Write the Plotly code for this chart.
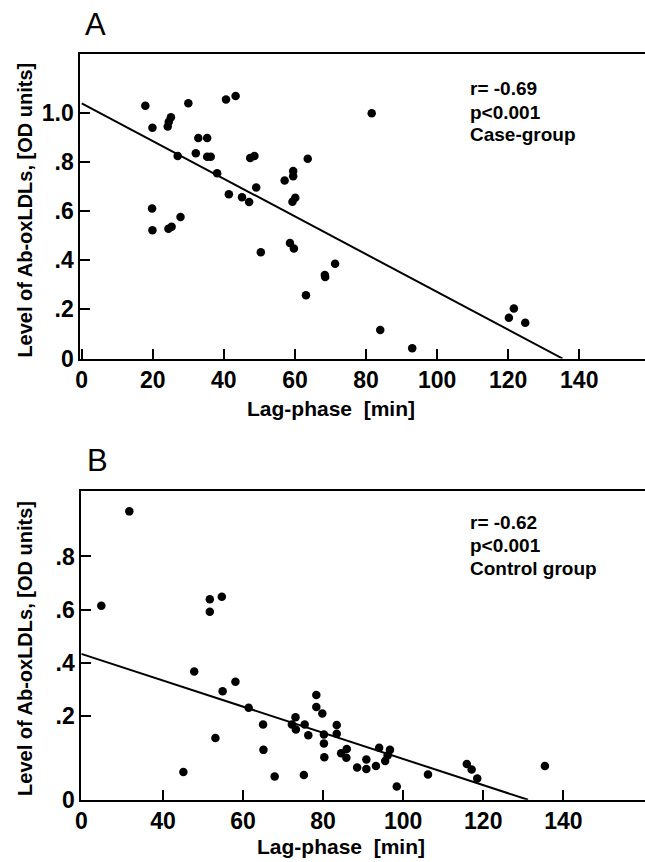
import plotly.graph_objects as go

W, H = 645, 862

# ---------------- data ----------------
# Panel A: Case-group
a_lag = [17.9, 30.0, 40.6, 43.3, 25.1, 24.5, 24.2, 19.9, 32.8, 35.3,
         27.0, 32.1, 35.3, 36.3, 47.4, 48.6, 38.1, 63.6, 59.5, 59.5,
         57.1, 49.1, 41.4, 45.1, 47.1, 59.3, 60.1, 19.8, 27.8, 19.9,
         24.4, 25.3, 81.6, 50.4, 58.6, 59.7, 71.3, 68.4, 68.5, 63.1,
         84.0, 93.0, 121.6, 120.2, 124.8]
a_ab = [1.03, 1.04, 1.055, 1.07, 0.983, 0.965, 0.945, 0.94, 0.898, 0.898,
        0.825, 0.836, 0.822, 0.822, 0.817, 0.825, 0.755, 0.814, 0.764, 0.743,
        0.725, 0.697, 0.669, 0.657, 0.638, 0.639, 0.655, 0.611, 0.577, 0.523,
        0.529, 0.537, 0.999, 0.433, 0.471, 0.448, 0.386, 0.340, 0.332, 0.258,
        0.116, 0.042, 0.204, 0.166, 0.146]
fit_a_lag = [0.0, 135.3]
fit_a_ab = [1.04, 0.0]

# Panel B: Control group
b_lag = [31.6, 24.6, 51.7, 54.7, 51.7, 47.8, 58.1, 54.9, 61.4, 78.3,
         78.3, 79.8, 73.1, 72.2, 73.2, 75.4, 76.3, 65.0, 80.2, 83.4,
         83.4, 80.2, 53.1, 65.1, 80.3, 85.9, 84.5, 85.8, 45.1, 67.9,
         75.2, 88.5, 90.8, 90.8, 94.0, 93.2, 96.7, 96.1, 95.5, 98.4,
         106.2, 115.9, 117.1, 118.5, 135.4]
b_ab = [0.970, 0.614, 0.639, 0.648, 0.592, 0.366, 0.328, 0.292, 0.230, 0.278,
        0.233, 0.208, 0.194, 0.167, 0.148, 0.167, 0.126, 0.167, 0.129, 0.165,
        0.132, 0.095, 0.116, 0.071, 0.043, 0.074, 0.058, 0.041, -0.012, -0.029,
        -0.024, 0.005, 0.035, -0.001, 0.079, 0.010, 0.071, 0.050, 0.029, -0.067,
        -0.022, 0.018, -0.003, -0.037, 0.010]
fit_b_lag = [19.6, 131.2]
fit_b_ab = [0.433, -0.117]

# axes / ticks
a_xrange = [-0.4, 158.5]
a_yrange = [0.0, 1.24]
a_xticks = [0, 20, 40, 60, 80, 100, 120, 140]
a_xtext = ["0", "20", "40", "60", "80", "100", "120", "140"]
a_yticks = [0, 0.2, 0.4, 0.6, 0.8, 1.0]
a_ytext = ["0", ".2", ".4", ".6", ".8", "1.0"]

b_xrange = [19.6, 160.4]
b_yrange = [-0.117, 1.045]
b_xticks = [19.6, 40, 60, 80, 100, 120, 140]
b_xtext = ["0", "40", "60", "80", "100", "120", "140"]
b_yticks = [-0.117, 0.2, 0.4, 0.6, 0.8]
b_ytext = ["0", ".2", ".4", ".6", ".8"]

stats_a = ["r= -0.69", "p&lt;0.001", "Case-group"]
stats_b = ["r= -0.62", "p&lt;0.001", "Control group"]
y_title = "Level of Ab-oxLDLs, [OD units]"
x_title = "Lag-phase\u00a0 [min]"

FONT = "Liberation Sans, Arial, Helvetica, sans-serif"


def px_x(p):
    return p / W


def px_y(p):
    return 1 - p / H


fig = go.Figure()

for xs, ys, xa, ya in [(a_lag, a_ab, "x", "y"), (b_lag, b_ab, "x2", "y2")]:
    fig.add_trace(go.Scatter(x=xs, y=ys, mode="markers", xaxis=xa, yaxis=ya,
                             marker=dict(color="black", size=8.5),
                             showlegend=False, cliponaxis=False))

for xs, ys, xa, ya in [(fit_a_lag, fit_a_ab, "x", "y"), (fit_b_lag, fit_b_ab, "x2", "y2")]:
    fig.add_trace(go.Scatter(x=xs, y=ys, mode="lines", xaxis=xa, yaxis=ya,
                             line=dict(color="black", width=2),
                             showlegend=False))

tickfont = dict(family=FONT, size=23, color="black", weight="bold")
common_x = dict(showgrid=False, zeroline=False, showline=True, linecolor="black",
                linewidth=2, mirror=True, ticks="inside", ticklen=10, tickwidth=2,
                tickcolor="black", tickfont=tickfont, tickmode="array")
common_y = dict(showgrid=False, zeroline=False, showline=True, linecolor="black",
                linewidth=2, mirror=False, ticks="inside", ticklen=10, tickwidth=2,
                tickcolor="black", tickfont=tickfont, tickmode="array")

fig.update_layout(
    width=W, height=H,
    margin=dict(l=0, r=0, t=0, b=0),
    paper_bgcolor="white", plot_bgcolor="white",
    xaxis=dict(common_x, domain=[px_x(75), 1.0], range=a_xrange,
               tickvals=a_xticks, ticktext=a_xtext, anchor="y"),
    yaxis=dict(common_y, domain=[px_y(364), px_y(55)], range=a_yrange,
               tickvals=a_yticks, ticktext=a_ytext, anchor="x"),
    xaxis2=dict(common_x, domain=[px_x(76), 1.0], range=b_xrange,
                tickvals=b_xticks, ticktext=b_xtext, anchor="y2"),
    yaxis2=dict(common_y, domain=[px_y(812), px_y(499)], range=b_yrange,
                tickvals=b_yticks, ticktext=b_ytext, anchor="x2"),
)

ann = []
bold = dict(family=FONT, color="black", weight="bold")
# panel letters
ann.append(dict(text="A", x=px_x(90), y=px_y(25), xref="paper", yref="paper",
                showarrow=False, font=dict(family=FONT, size=31, color="black"),
                xanchor="center", yanchor="middle"))
ann.append(dict(text="B", x=px_x(92), y=px_y(468), xref="paper", yref="paper",
                showarrow=False, font=dict(family=FONT, size=31, color="black"),
                xanchor="center", yanchor="middle"))
# stats text
for lines, ys in [(stats_a, [90, 114, 137]), (stats_b, [531, 554, 577])]:
    for t, yy in zip(lines, ys):
        ann.append(dict(text=t, x=px_x(466), y=px_y(yy), xref="paper", yref="paper",
                        showarrow=False, font=dict(bold, size=19),
                        xanchor="left", yanchor="middle"))
# axis titles
for yy in [213, 658]:
    ann.append(dict(text=y_title, x=px_x(19), y=px_y(yy), xref="paper", yref="paper",
                    showarrow=False, textangle=-90, font=dict(bold, size=20),
                    xanchor="center", yanchor="middle"))
for xx, yy in [(328, 415), (338, 859)]:
    ann.append(dict(text=x_title, x=px_x(xx), y=px_y(yy), xref="paper", yref="paper",
                    showarrow=False, font=dict(bold, size=21),
                    xanchor="center", yanchor="middle"))

fig.update_layout(annotations=ann)

fig.write_html("out.html",
               config={"displayModeBar": False},
               post_script="document.body.style.margin='0px';"
                           "document.body.style.overflow='hidden';")
